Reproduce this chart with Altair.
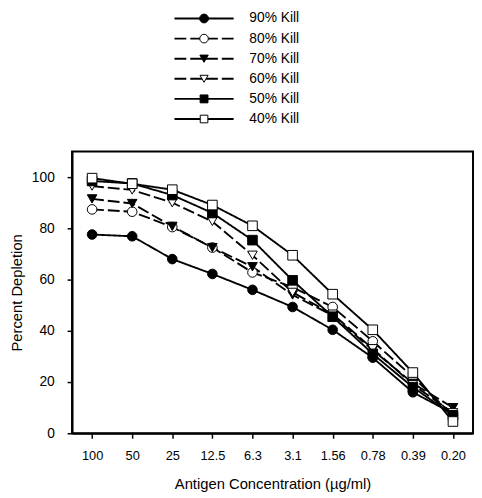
import altair as alt
import pandas as pd

conc = ["100", "50", "25", "12.5", "6.3", "3.1", "1.56", "0.78", "0.39", "0.20"]
series = ["90% Kill", "80% Kill", "70% Kill", "60% Kill", "50% Kill", "40% Kill"]
k90 = [77.6, 76.9, 68.0, 62.2, 56.0, 49.3, 40.4, 29.5, 16.0, 7.7]
k80 = [87.4, 86.5, 80.5, 72.5, 62.8, 57.0, 49.3, 35.9, 22.0, 7.0]
k70 = [91.5, 89.7, 80.8, 72.5, 65.0, 54.0, 46.0, 32.5, 19.5, 10.0]
k60 = [96.5, 95.0, 90.0, 82.7, 69.5, 55.0, 46.5, 33.0, 19.0, 8.0]
k50 = [98.5, 97.5, 93.0, 86.0, 75.4, 59.7, 45.5, 31.0, 18.0, 7.0]
k40 = [99.6, 97.4, 95.1, 89.1, 81.0, 69.5, 54.3, 40.4, 23.7, 4.6]
values = [k90, k80, k70, k60, k50, k40]

shapes = ["circle", "circle", "triangle-down", "triangle-down", "square", "square"]
fills = ["black", "white", "black", "white", "black", "white"]
dashes = [[1, 0], [12, 4], [12, 4], [12, 4], [1, 0], [1, 0]]
sizes = [95, 95, 95, 95, 81, 81]
legend_sizes = [80, 60, 70, 55, 60, 55]

rows = []
for si, s in enumerate(series):
    for ci, c in enumerate(conc):
        rows.append({"series": s, "conc": c, "value": values[si][ci], "order": si})
df = pd.DataFrame(rows)
leg = pd.DataFrame({"series": series})

FONT = "Liberation Sans"

shape_enc = alt.Shape("series:N", scale=alt.Scale(domain=series, range=shapes), legend=None)
fill_enc = alt.Fill("series:N", scale=alt.Scale(domain=series, range=fills), legend=None)
dash_enc = alt.StrokeDash("series:N", scale=alt.Scale(domain=series, range=dashes), legend=None)

x_enc = alt.X(
    "conc:N",
    sort=conc,
    scale=alt.Scale(type="point", padding=0.5),
    axis=alt.Axis(
        title="Antigen Concentration (µg/ml)",
        labelAngle=0,
        labelFontSize=13,
        titleFontSize=15,
        labelPadding=12,
        titlePadding=14,
        tickSize=5,
    ),
)
y_enc = alt.Y(
    "value:Q",
    scale=alt.Scale(domain=[0, 110], nice=False),
    axis=alt.Axis(
        title="Percent Depletion",
        values=[0, 20, 40, 60, 80, 100],
        labelFontSize=14,
        titleFontSize=15,
        labelPadding=13,
        titlePadding=7,
        tickSize=5,
        grid=False,
    ),
)

lines = alt.Chart(df).mark_line(color="black", strokeWidth=1.9).encode(
    x=x_enc, y=y_enc, detail="series:N", strokeDash=dash_enc, order="order:Q"
)
points = alt.Chart(df).mark_point(filled=True, stroke="black", strokeWidth=1, opacity=1).encode(
    x=x_enc,
    y=y_enc,
    shape=shape_enc,
    fill=fill_enc,
    size=alt.Size("series:N", scale=alt.Scale(domain=series, range=sizes), legend=None),
    order="order:Q",
)
main = alt.layer(lines, points).properties(width=407, height=286)

ly = alt.Y("series:N", sort=series, scale=alt.Scale(type="point", padding=0, range=[2, 104]), axis=None)
leg_rule = alt.Chart(leg).mark_rule(color="black", strokeWidth=1.9).encode(
    x=alt.value(104), x2=alt.value(164), y=ly, strokeDash=dash_enc
)
leg_pt = alt.Chart(leg).mark_point(filled=True, stroke="black", strokeWidth=1, opacity=1).encode(
    x=alt.value(134),
    y=ly,
    shape=shape_enc,
    fill=fill_enc,
    size=alt.Size("series:N", scale=alt.Scale(domain=series, range=legend_sizes), legend=None),
)
leg_txt = alt.Chart(leg).mark_text(align="left", baseline="middle", fontSize=14, font=FONT, color="black").encode(
    x=alt.value(180), y=ly, text="series:N"
)
legend = alt.layer(leg_rule, leg_pt, leg_txt).properties(width=407, height=112, view=alt.ViewConfig(stroke=None))

chart = (
    alt.vconcat(legend, main, spacing=24)
    .resolve_scale(shape="independent", fill="independent", strokeDash="independent", size="independent")
    .properties(padding=0)
    .configure(font=FONT)
    .configure_view(stroke="black", strokeWidth=2)
    .configure_axis(
        domainColor="black",
        domainWidth=2,
        tickColor="black",
        tickWidth=1.5,
        labelColor="black",
        titleColor="black",
        labelFont=FONT,
        titleFont=FONT,
        titleFontWeight="normal",
    )
)
chart.save("out.html", embed_options={"renderer": "svg", "actions": False})
